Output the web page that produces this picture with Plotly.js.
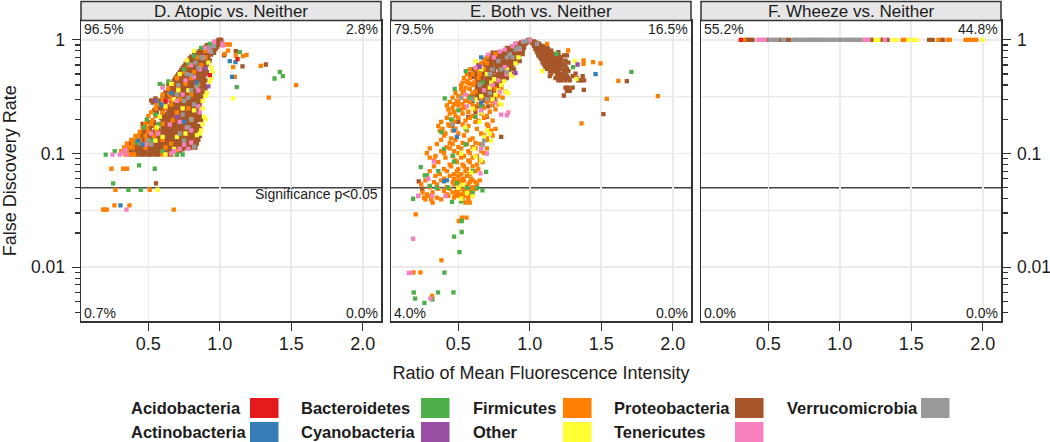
<!DOCTYPE html>
<html><head><meta charset="utf-8">
<script src="https://cdn.plot.ly/plotly-3.0.1.min.js"></script>
<style>html,body{margin:0;padding:0;background:#fff}#c{width:1050px;height:442px}</style>
</head><body><div id="c"></div>
<script>
// Phyla and colours
const PHYLA = ["Acidobacteria","Actinobacteria","Bacteroidetes","Cyanobacteria","Firmicutes","Other","Proteobacteria","Tenericutes","Verrucomicrobia"];
const COLORS = ["#E41A1C","#377EB8","#4DAF4A","#984EA3","#FF7F00","#FFFF33","#A65628","#F781BF","#999999"];
const PANEL_TITLES = ["D. Atopic vs. Neither","E. Both vs. Neither","F. Wheeze vs. Neither"];
const PCT_UL = ["96.5%","79.5%","55.2%"];
const PCT_UR = ["2.8%","16.5%","44.8%"];
const PCT_LL = ["0.7%","4.0%","0.0%"];
const PCT_LR = ["0.0%","0.0%","0.0%"];
const X_TICKS = [0.5,1,1.5,2];
const X_TICK_TEXT = ["0.5","1.0","1.5","2.0"];
const Y_TICKS = [0.01,0.1,1];
const Y_TICK_TEXT = ["0.01","0.1","1"];
const Y_MINOR = [0.004,0.005,0.006,0.007,0.008,0.009,0.02,0.03,0.04,0.05,0.06,0.07,0.08,0.09,0.2,0.3,0.4,0.5,0.6,0.7,0.8,0.9];

// Rows: [FDR, ratio, ratio, ...]
const D_PROTEO_ROWS = [
[.098,.42,.45,.47,.50,.52,.55,.57,.63,.66],
[.105,.38,.41,.44,.47,.5,.53,.56,.59,.62,.65,.68,.72],
[.113,.4,.44,.47,.5,.53,.56,.59,.62,.65,.68,.71,.74,.77,.8,.83],
[.122,.37,.43,.48,.51,.54,.57,.6,.63,.66,.69,.72,.75,.78,.81,.84],
[.132,.42,.46,.52,.55,.58,.61,.64,.67,.7,.73,.76,.79,.82,.85],
[.143,.45,.5,.56,.59,.62,.65,.68,.71,.74,.77,.8,.83,.86],
[.155,.47,.53,.58,.61,.64,.67,.7,.73,.76,.79,.82,.85],
[.168,.5,.6,.63,.66,.69,.72,.75,.78,.81,.84,.86],
[.182,.46,.58,.62,.65,.68,.71,.74,.77,.8,.83],
[.197,.63,.66,.69,.72,.75,.78,.81,.84,.87],
[.213,.62,.65,.68,.71,.74,.77,.8,.83,.86],
[.23,.56,.64,.67,.7,.73,.76,.79,.82,.85],
[.25,.58,.63,.66,.69,.72,.75,.78,.81,.84],
[.27,.62,.68,.71,.74,.77,.8,.83,.86],
[.293,.52,.55,.58,.64,.67,.7,.73,.76,.79,.82,.85,.87],
[.318,.6,.63,.69,.72,.75,.78,.81,.84,.87],
[.345,.62,.65,.68,.71,.74,.77,.8,.83,.86,.88],
[.375,.66,.69,.72,.75,.78,.81,.84,.87,.9],
[.405,.64,.68,.71,.74,.77,.8,.83,.86,.89],
[.44,.68,.72,.75,.78,.81,.84,.87,.9],
[.48,.7,.74,.77,.8,.83,.86,.89],
[.52,.72,.76,.79,.82,.85,.88,.91],
[.565,.74,.78,.81,.84,.87,.9],
[.61,.76,.79,.82,.85,.88,.91],
[.66,.78,.81,.84,.87,.9,.93],
[.71,.8,.83,.86,.89,.92],
[.77,.84,.87,.9,.93,.96],
[.83,.88,.91,.94,.97],
[.9,.91,.94,.97,.99],
[.96,.96,.98,1.0,1.01],
[1.0,.99,1.0,1.01],
[.795,1.112],[.73,1.03],[.607,1.322],[.583,1.159],[.0546,.554],
[.101,.44,.49,.54,.6,.64],
[.109,.36,.42,.46,.51,.55,.58,.61,.64,.67,.7,.74],
[.118,.41,.45,.49,.52,.55,.58,.61,.64,.67,.7,.73,.76,.79,.82],
[.127,.4,.44,.5,.53,.56,.59,.62,.65,.68,.71,.74,.77,.8,.83],
[.137,.43,.47,.51,.54,.57,.6,.63,.66,.69,.72,.75,.78,.81,.84],
[.149,.46,.52,.55,.6,.63,.66,.69,.72,.75,.78,.81,.84],
[.161,.48,.51,.57,.62,.65,.68,.71,.74,.77,.8,.83],
[.175,.52,.55,.61,.64,.67,.7,.73,.76,.79,.82,.85],
[.189,.5,.54,.6,.64,.67,.7,.73,.76,.79,.82],
[.205,.59,.61,.64,.67,.7,.73,.76,.79,.82,.85],
[.221,.6,.63,.66,.69,.72,.75,.78,.81,.84],
[.24,.54,.6,.65,.68,.71,.74,.77,.8,.83],
[.26,.56,.6,.65,.67,.7,.73,.76,.79,.82,.85],
[.281,.53,.57,.66,.69,.72,.75,.78,.81,.84],
[.305,.55,.62,.65,.68,.71,.74,.77,.8,.83,.86],
[.33,.61,.67,.7,.73,.76,.79,.82,.85],
[.36,.64,.67,.7,.73,.76,.79,.82,.85,.87],
[.39,.66,.7,.73,.76,.79,.82,.85,.88],
[.42,.67,.7,.73,.76,.79,.82,.85,.88],
[.46,.69,.73,.76,.79,.82,.85,.88],
[.5,.71,.75,.78,.81,.84,.87,.9],
[.54,.73,.77,.8,.83,.86,.89],
[.585,.75,.8,.83,.86,.89],
[.635,.77,.8,.83,.86,.89,.92],
[.685,.79,.82,.85,.88,.91],
[.74,.82,.85,.88,.91,.94],
[.8,.86,.89,.92,.95],
[.865,.9,.93,.96,.98]];
const D_FIRMI_ROWS = [
[.098,.34,.36,.38,.40,.6,.7],[.105,.31,.33,.35,.6,.7],[.113,.33,.36,.39,.48,.62],[.122,.35,.39,.45,.5,.66],
[.132,.38,.41,.44,.49,.6],[.143,.41,.43,.48,.54],[.155,.44,.5,.56],[.168,.46,.49,.55],[.182,.48,.52,.6],
[.197,.49,.53,.67],[.213,.5,.55,.7],[.23,.52,.6,.7],[.25,.55,.62,.78],[.27,.56,.66],[.3,.6,.66,.72],
[.33,.6,.65,.8],[.37,.64,.71],[.41,.67,.76,.85],[.46,.7,.8],[.52,.75,.82],[.6,.78,.87],[.7,.84,.9],[.8,.9],
[.753,1.035],[.91,1.07,1.05],[.738,1.187],[.72,1.163],[.73,1.112],[.59,1.287],[.575,1.093],[.473,1.105],[.40,1.534],[.31,1.343],[.805,1.058],
[.0735,.242,.324,.351],[.048,.27,.51],[.035,.263,.368],[.0321,.184,.195,.21,.678]];
const D_BACTERO_ROWS = [
[.0976,.202],[.105,.265],[.0787,.435],[.0735,.545],[.0546,.254],[.048,.361,.447],
[.523,1.42],[.48,1.441],[.457,1.383],[.384,1.119],[.78,1.14],
[.395,.6],[.41,.58],[.43,.64],[.22,.55],[.29,.56],[.2,.49],[.17,.47],[.125,.42],[.18,.57],[.13,.53],[.098,.7,.74],[.105,.6],[.55,.75],[.62,.78],[.72,.82],[.85,.87],[.92,.93]];
const D_OTHER_ROWS = [
[.048,.564],[.305,1.093],[.18,.88],[.16,.87],[.21,.89],[.2,.9],[.15,.86],[.145,.84],[.25,.88],[.32,.9],[.34,.91],[.29,.88],[.43,.93],[.46,.94],[.52,.95],[.57,.94],[.63,.92],[.8,.82],[.66,.77],[.5,.72],[.3,.68],[.41,.66],[.26,.62],[.21,.58],[.17,.56],[.14,.6],[.11,.68],[.098,.62],[.13,.55],[.25,.74],[.36,.78,.71],[.24,.82],[.39,.84],[.2,.8],[.15,.76],[.14,.7]];
const D_TENER_ROWS = [
[.0976,.249,.3,.35],[.102,.32],[.108,.34],[.0321,.347],[.1,.66],[.105,.68],[.11,.72,.78],[.12,.75],[.125,.8],[.23,.86],[.26,.85],[.16,.8],[.17,.77],[.19,.72],[.29,.7,.63],[.33,.74],[.44,.76],[.47,.82],[.7,.88],[.96,.96],[.93,1.02],[.85,.9],[.38,.6],[.18,.65],[.15,.57,.52],[.12,.48],[.36,.85],[.8,.93],[.6,.8],[.55,.86],[.89,1.023]];
const D_VERRU_ROWS = [
[.13,.5],[.12,.52],[.13,.75],[.15,.72],[.17,.78],[.115,.82],[.2,.8],[.22,.74],[.27,.82],[.29,.75],[.33,.7],[.31,.78],[.4,.71],[.36,.8],[.39,.84],[.49,.8],[.5,.77],[.57,.85],[.63,.83],[.69,.88],[.78,.94],[.86,.93],[.88,.96],[.7,.87]];
const D_ACTINO_ROWS = [[.65,1.07],[.637,1.11],[.473,1.086],[.035,.305],[.13,.43],[.12,.46],[.27,.59],[.34,.66],[.42,.84],[.19,.75]];
const D_CYANO_ROWS = [[.29,.55],[.39,.92],[.56,.9],[.21,.7]];
const D_ACIDO_ROWS = [[.676,1.124],[.49,.93],[.29,.62]];

const E_PROTEO_ROWS = [
[1.0,.99,1.0],[.95,.94,.96,.98],[.9,.9,.92,.94,.96],[.85,.84,.87,.89,.91,.94,.96],[.8,.83,.86,.88,.9,.93,.95],
[.75,.8,.83,.85,.87,.9,.92,.95],[.7,.76,.79,.82,.84,.86,.89,.92],[.65,.74,.79,.81,.83,.85,.87,.9,.93],
[.6,.72,.78,.8,.82,.84,.86,.88],[.55,.7,.75,.79,.81,.83,.86,.89],[.5,.68,.72,.78,.8,.82,.87],
[.46,.66,.7,.73,.76,.78,.8,.84],[.42,.62,.66,.68,.71,.73,.75,.77,.79],[.385,.64,.66,.68,.7,.72,.74,.76,.8],
[.35,.62,.64,.66,.68,.7,.73,.75],[.32,.58,.63,.66,.7,.74],[.29,.55,.6,.68,.72,.76],[.26,.63,.67,.71],[.23,.62,.66],[.21,.57,.7],[.19,.5],[.175,.46],[.14,.8],[.0568,.223],[.049,.247],
[.97,1.01,1.03],[.93,1.02,1.04,1.06],[.88,1.03,1.05,1.07,1.09,1.12],[.83,1.04,1.06,1.08,1.1,1.13],[.78,1.05,1.07,1.09,1.11,1.14,1.2],
[.73,1.06,1.08,1.1,1.12,1.15,1.2,1.24,1.26],[.68,1.08,1.1,1.12,1.15,1.18,1.22],[.63,1.09,1.12,1.14,1.17,1.19,1.22,1.27],
[.58,1.11,1.13,1.16,1.19,1.22,1.25],[.53,1.14,1.17,1.2,1.24,1.27],[.48,1.14,1.2,1.23,1.26,1.3,1.37],[.44,1.2,1.22,1.25,1.28,1.34,1.36,1.38],
[.38,1.25,1.27,1.3],[.363,1.378],[.355,1.26,1.28],[.324,1.238],[.222,1.515],[.433,1.679],
[.925,.92,.94,.97],[.875,.88,.91,.93,.95],[.825,.85,.88,.9,.92,.95],[.775,.81,.84,.86,.88,.91,.93],[.725,.78,.81,.83,.85,.88,.91],
[.675,.75,.77,.8,.82,.84,.86,.88,.91],[.625,.73,.76,.79,.81,.83,.85,.87,.9],[.575,.71,.74,.77,.8,.82,.84,.87],[.525,.69,.72,.75,.79,.81,.83,.85],
[.48,.67,.71,.74,.77,.79,.81,.83],[.44,.63,.66,.69,.72,.74,.76,.78,.82],[.4,.63,.65,.67,.69,.71,.73,.75,.77],[.37,.63,.65,.67,.69,.71,.74,.78],[.335,.6,.65,.67,.69,.72],[.305,.6,.64,.67,.71,.75],
[.95,1.02,1.04],[.905,1.03,1.05,1.07],[.855,1.04,1.06,1.08,1.1,1.12],[.805,1.05,1.07,1.09,1.11,1.15],[.755,1.06,1.08,1.1,1.12,1.16],[.705,1.07,1.09,1.11,1.14,1.17,1.21],
[.655,1.09,1.11,1.13,1.16,1.2,1.25],[.605,1.1,1.12,1.15,1.18,1.21,1.24],[.555,1.12,1.15,1.18,1.21,1.26],[.505,1.15,1.19,1.22,1.25,1.32],[.46,1.18,1.21,1.24,1.27,1.33],
[.55,.6,.65],[.5,.58,.62,.66],[.68,.7],[.62,.67],[.77,.74,.77],[.72,.72,.75],[.67,.69,.72],[.6,.64,.69],[.54,.62,.66],[.47,.6,.63]];
const E_FIRMI_ROWS = [
[.43,.56],[.41,.58,.6],[.40,.52,.6],[.38,.55,.8],[.37,.52,.58,.76],[.35,.54,.62,.83],[.34,.48,.53,.6],[.32,.5,.57,.78],[.31,.46,.52,.66,.81],[.29,.49,.55,.73],
[.283,.44,.5,.58,.7],[.272,.47,.53,.64,.78],[.265,.42,.5,.6,.74],[.252,.46,.54,.68],[.245,.43,.52,.62,.76],[.233,.47,.57,.72],[.225,.44,.53,.66],[.214,.48,.6,.7],
[.206,.42,.5,.58,.68],[.195,.46,.55,.64,.74],[.19,.38,.47,.62],[.18,.43,.53,.7],[.175,.36,.44,.57,.71],[.165,.39,.48,.63,.76],[.159,.37,.46,.56,.73],[.15,.41,.5,.66],
[.144,.4,.54,.68,.74],[.136,.45,.6,.7],[.132,.38,.48,.58,.7],[.124,.44,.53,.62],[.121,.35,.46,.56,.65],[.114,.42,.5,.6],[.111,.3,.44,.52,.62,.7],[.105,.38,.47,.57,.66],
[.101,.28,.4,.5,.58,.68],[.095,.34,.46,.54,.63],[.092,.3,.41,.52,.6],[.087,.33,.48,.57,.65],[.084,.36,.49,.58,.67],[.08,.44,.53,.63],[.077,.33,.45,.54,.6],[.073,.4,.5,.56,.64],
[.07,.3,.42,.49,.55,.62],[.066,.37,.47,.52,.58],[.0635,.34,.44,.5,.56],[.06,.4,.47,.53,.59],[.058,.27,.38,.5,.54,.6,.65],[.056,.33,.46,.52,.58,.62],
[.0535,.24,.35,.47,.53,.57,.63],[.0505,.3,.42,.5,.55,.6],[.049,.36,.44,.51,.56,.62],[.047,.4,.49,.54,.59],[.0455,.25,.32,.46,.5,.55,.6],[.0438,.28,.42,.48,.52,.58],
[.0425,.22,.29,.43,.5,.54],[.041,.26,.35,.47,.52,.57],[.0395,.27,.31,.38,.53,.57],[.037,.32,.55,.58],
[.0292,.202],[.0273,.524,.557],[.0255,.503],[.0115,.382],[.009,.186,.235],[.0056,.317],
[.184,1.362],[.303,1.539],[.32,1.896],[.436,1.62],[.636,1.443],[.62,1.495],[.66,1.376],[.615,1.376],[.806,1.268],[.92,1.121],
[.62,.66,.7],[.5,.56,.6,.65],[.46,.54,.58,.64],[.7,.7],[.75,.76],[.65,.68],[.42,.53,.57,.61],[.55,.58,.63,.68]];
const E_BACTERO_ROWS = [
[.523,1.711],[.753,1.187],[.575,1.303],[.0255,.524],[.0204,.524],[.0186,.47],[.0136,.508],[.00897,.403],[.006,.188,.466,.358],[.0053,.198],[.0052,.319],[.00485,.263],
[.04,.184],[.0375,.456],[.0474,.669],[.069,.694],[.305,.405],[.37,.475],[.53,.552],[.154,.382],[.076,.237],[.0643,.265,.28],[.165,.552],[.096,.463],
[.24,.5],[.31,.58],[.21,.62],[.2,.45],[.26,.66],[.11,.4],[.085,.47],[.12,.55],[.055,.49],[.07,.6],[.05,.56,.43,.35,.63],[.052,.3],[.045,.6],[.038,.52],[.07,.36],[.42,.67]];
const E_OTHER_ROWS = [
[.53,1.086],[.65,1.315],[.454,1.327],[.25,.6],[.3,.62,.74],[.32,.66],[.38,.72],[.33,.76],[.36,.78],[.4,.8],[.43,.82],[.55,.84],[.5,.86],[.48,.88],[.62,.9],[.7,.92],[.5,.7],[.55,.66],[.65,.62],[.16,.7],[.13,.73],[.23,.66],[.19,.65],[.15,.72],[.14,.68],[.17,.55],[.11,.61],[.087,.66],[.068,.59],[.094,.62],[.1,.52],[.05,.5],[.04,.52],[.045,.56],[.042,.6],[.053,.53],[.16,.47],[.28,.78],[.42,.73],[.27,.8],[.35,.83],[.34,.85],[.45,.75]];
const E_TENER_ROWS = [
[.74,.708],[.79,.79],[.82,.825],[.97,.953],[.99,1.0],[.575,.825],[.5,.837],[.44,.78],[.4,.74],[.36,.68],[.28,.76],[.22,.8],[.217,.84],[.23,.85],[.24,.66],[.33,.55],[.57,.62],[.7,.75],[.88,.88],[.93,.9],[.83,.93],[.35,.79],[.26,.56],[.11,.66],[.1,.7],[.085,.33],[.06,.29],
[.0178,.184],[.0089,.153,.167],[.0053,.305],[.0423,.219,.41],[.0424,.316],[.067,.655]];
const E_VERRU_ROWS = [[.85,.93,.92],[.96,.96],[.98,.98],[.75,.86],[.7,.84],[.65,.78],[.55,.74],[.5,.72],[.4,.65],[.55,.8],[.52,.84],[.34,.72],[.3,.7,.6],[.31,.52],[.18,.46],[.7,.88],[.82,.9],[.13,.68],[.12,.67],[.92,1.05]];
const E_ACTINO_ROWS = [[.499,1.46],[.16,.47],[.14,.49],[.28,.66],[.7,.66],[.057,.4],[.058,.42]];
const E_CYANO_ROWS = [[.607,1.334],[.51,.9],[.58,.65]];
const E_ACIDO_ROWS = [];

const F_ACIDO_ROWS = [[1,.307]];
const F_BACTERO_ROWS = [[1,.34]];
const F_FIRMI_ROWS = [[1,.33,.345,1.44,1.46,1.69,1.71,1.755,1.77,1.88,1.9,1.91,1.935,1.955]];
const F_PROTEO_ROWS = [[1,.36,.375,.39,.49,.58,.63,.645,.816,1.21,1.23,1.29,1.3,1.334,1.625,1.65,1.72]];
const F_TENER_ROWS = [[1,.43,.445,.46,.475,.708,1.155,1.17,1.185,1.2,1.315]];
const F_OTHER_ROWS = [[1,1.25,1.27,1.375,1.395,1.48,1.515,1.535,1.998]];
const F_VERRU_ROWS = [[1,.51,.525,.545,.56,.6,.61,.675,.69,.7,.73,.745,.76,.775,.79,.805,.83,.845,.86,.874,.89,.903,.92,.934,.95,.963,.98,.994,1.01,1.023,1.04,1.052,1.07,1.082,1.1,1.112,1.13,1.143]];

// Drawing order inside each panel
const PANEL_DATA = [
 [["Proteobacteria",D_PROTEO_ROWS],["Firmicutes",D_FIRMI_ROWS],["Bacteroidetes",D_BACTERO_ROWS],["Other",D_OTHER_ROWS],["Tenericutes",D_TENER_ROWS],["Verrucomicrobia",D_VERRU_ROWS],["Actinobacteria",D_ACTINO_ROWS],["Cyanobacteria",D_CYANO_ROWS],["Acidobacteria",D_ACIDO_ROWS]],
 [["Proteobacteria",E_PROTEO_ROWS],["Firmicutes",E_FIRMI_ROWS],["Bacteroidetes",E_BACTERO_ROWS],["Other",E_OTHER_ROWS],["Tenericutes",E_TENER_ROWS],["Verrucomicrobia",E_VERRU_ROWS],["Actinobacteria",E_ACTINO_ROWS],["Cyanobacteria",E_CYANO_ROWS],["Acidobacteria",E_ACIDO_ROWS]],
 [["Bacteroidetes",F_BACTERO_ROWS],["Firmicutes",F_FIRMI_ROWS],["Proteobacteria",F_PROTEO_ROWS],["Tenericutes",F_TENER_ROWS],["Other",F_OTHER_ROWS],["Verrucomicrobia",F_VERRU_ROWS],["Acidobacteria",F_ACIDO_ROWS]]
];

// Layout geometry (pixels)
const W=1050,H=442, FONT='"Liberation Sans", Arial, sans-serif', INK='#1c1c1c', LINE='#333';
const PX=[[81,381],[391,691],[701,1001]], TOP=20.5, BOT=321, STRIP=1.5;
const fx=p=>p/W, fy=p=>1-p/H;
const suffix=i=>i?String(i+1):'';

const traces=[];
PANEL_DATA.forEach((panel,i)=>panel.forEach(([name,rows])=>{
  const x=[],y=[];
  rows.forEach(r=>r.slice(1).forEach(v=>{x.push(v);y.push(r[0]);}));
  traces.push({type:'scatter',mode:'markers',name,x,y,xaxis:'x'+suffix(i),yaxis:'y'+suffix(i),showlegend:false,hoverinfo:'skip',
    marker:{symbol:'square',size:4.3,color:COLORS[PHYLA.indexOf(name)],line:{width:0}}});
}));

const layout={width:W,height:H,margin:{l:0,r:0,t:0,b:0},paper_bgcolor:'#fff',plot_bgcolor:'#fff',showlegend:false,hovermode:false,
  font:{family:FONT,color:INK,size:18},shapes:[],annotations:[]};
const ann=(text,x,y,size,xa,ya,extra)=>layout.annotations.push(Object.assign({text,x:x/W,y:fy(y),xref:'paper',yref:'paper',showarrow:false,xanchor:xa,yanchor:ya,font:{family:FONT,size,color:INK},borderpad:0,borderwidth:0},extra||{}));

PX.forEach((px,i)=>{
  const s=suffix(i);
  const xa={domain:[fx(px[0]),fx(px[1])],anchor:'y'+s,range:[0.029,2.128],tickmode:'array',tickvals:X_TICKS,ticktext:X_TICK_TEXT,
    ticks:'outside',ticklen:8,tickwidth:1.3,tickcolor:LINE,ticklabelstandoff:-2,tickfont:{family:FONT,size:18,color:INK},showgrid:true,gridcolor:'#ebebeb',gridwidth:1.6,zeroline:false,showline:true,linecolor:LINE,linewidth:1.5,mirror:true};
  if(i===1) xa.title={text:'Ratio of Mean Fluorescence Intensity',standoff:13,font:{family:FONT,size:18,color:INK}};
  layout['xaxis'+s]=xa;
  const y={domain:[fy(BOT),fy(TOP)],anchor:'x'+s,type:'log',range:[-2.473,0.17],tickmode:'array',tickvals:Y_TICKS,ticktext:Y_TICK_TEXT,
    showgrid:true,gridcolor:'#ebebeb',gridwidth:1.6,zeroline:false,showline:true,linecolor:LINE,linewidth:1.5,mirror:true,tickfont:{family:FONT,size:17.5,color:INK}};
  if(i===1){y.ticks='';y.showticklabels=false;}
  else{y.ticks='outside';y.ticklen=8;y.tickwidth=1.3;y.tickcolor=LINE;y.side=i===0?'left':'right';y.ticklabelstandoff=3;
    y.minor={tickmode:'array',tickvals:Y_MINOR,ticks:'outside',ticklen:5,tickwidth:1.2,tickcolor:LINE,showgrid:false};}
  if(i===0) y.title={text:'False Discovery Rate',standoff:15,font:{family:FONT,size:18,color:INK}};
  layout['yaxis'+s]=y;
  const xr='x'+s,yr='y'+s;
  [0.316,0.0316].forEach(v=>layout.shapes.push({type:'line',layer:'below',xref:xr+' domain',yref:yr,x0:0,x1:1,y0:v,y1:v,line:{color:'#ebebeb',width:1.6}}));
  layout.shapes.push({type:'line',layer:'below',xref:xr+' domain',yref:yr,x0:0,x1:1,y0:0.05,y1:0.05,line:{color:'#444',width:1.3}});
  layout.shapes.push({type:'line',layer:'below',xref:xr,yref:yr+' domain',x0:1,x1:1,y0:0,y1:1,line:{color:'#444',width:1.3}});
  layout.shapes.push({type:'rect',xref:'paper',yref:'paper',x0:fx(px[0]),x1:fx(px[1]),y0:fy(TOP),y1:fy(STRIP),fillcolor:'#e6e6e6',line:{color:LINE,width:1.5}});
  ann(PANEL_TITLES[i],(px[0]+px[1])/2,11,17,'center','middle');
  ann(PCT_UL[i],px[0]+2.5,29.5,14,'left','middle');
  ann(PCT_UR[i],px[1]-3,29.5,14,'right','middle');
  ann(PCT_LL[i],px[0]+2.5,313,14,'left','middle');
  ann(PCT_LR[i],px[1]-3,313,14,'right','middle');
});
ann('Significance p<0.05',378,194,14,'right','middle');

// Legend
const LEG_TEXT_X={Acidobacteria:131,Actinobacteria:131,Bacteroidetes:301,Cyanobacteria:301,Firmicutes:472.5,Other:472.5,Proteobacteria:614,Tenericutes:614,Verrucomicrobia:787};
const LEG_SW_X={Acidobacteria:250,Actinobacteria:250,Bacteroidetes:421,Cyanobacteria:421,Firmicutes:563,Other:563,Proteobacteria:735,Tenericutes:735,Verrucomicrobia:921};
const LEG_ROW_Y={Acidobacteria:0,Bacteroidetes:0,Firmicutes:0,Proteobacteria:0,Verrucomicrobia:0,Actinobacteria:1,Cyanobacteria:1,Other:1,Tenericutes:1};
PHYLA.forEach((n,i)=>{
  const y0=398+24*LEG_ROW_Y[n];
  layout.shapes.push({type:'rect',xref:'paper',yref:'paper',x0:fx(LEG_SW_X[n]),x1:fx(LEG_SW_X[n]+28.5),y0:fy(y0+20),y1:fy(y0),fillcolor:COLORS[i],line:{width:0}});
  ann('<b>'+n+'</b>',LEG_TEXT_X[n],y0+10,16.5,'left','middle');
});

Plotly.newPlot('c',traces,layout,{staticPlot:true,displayModeBar:false});
</script>
</body></html>
